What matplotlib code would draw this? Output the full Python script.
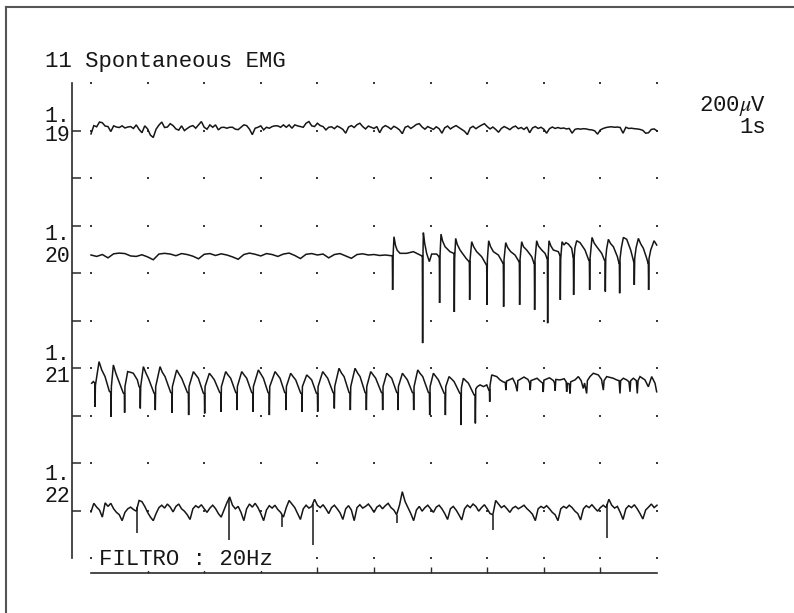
import numpy as np
import matplotlib
matplotlib.use("Agg")
import matplotlib.pyplot as plt
from matplotlib.lines import Line2D

plt.rcParams['font.family'] = ['Liberation Mono', 'DejaVu Sans Mono']
plt.rcParams['mathtext.fontset'] = 'stix'

# ---------------- data ----------------
title = "11 Spontaneous EMG"
channel_top = ["1.", "1.", "1.", "1."]
channel_bottom = ["19", "20", "21", "22"]
scale_amp = "200$\\mu$V"
scale_time = "1s"
filter_label = "FILTRO : 20Hz"

sweep_ms = 1000          # 10 divisions
div_ms = 100
div_uV = 200
grid_cols = list(range(0, 1001, 100))
grid_rows = list(range(0, 11))

# channel 1.19 : sampled every 5 ms, microvolts (positive = upward)
ch19_dt = 5
ch19_uV = [-25, 10, 5, 25, 22, 8, 6, -15, 9, 4,
           2, 9, 0, 4, 6, -2, 13, -6, -20, 9,
           -4, -30, -40, -5, 12, 25, 2, 4, 18, 10,
           -4, -9, 9, -11, -2, 6, 10, -1, 13, 27,
           3, -5, 13, 3, 13, -8, 2, 3, -1, 3,
           3, -5, -7, 3, 13, 10, -5, -28, -1, 3,
           9, -8, 3, -1, 6, 9, 9, 3, 13, 3,
           13, -1, 13, 9, 6, 3, 20, 27, 9, 6,
           20, 10, 6, -8, 3, 5, -3, 8, 2, -6,
           -22, 4, 10, 2, 14, 20, 6, -4, 8, 3,
           -2, 6, -20, 2, 10, 4, -5, 7, 1, -8,
           -24, 3, 8, -2, 6, 15, 18, 4, -5, 6,
           0, -6, 5, -3, -22, 1, 8, -4, 4, 10,
           2, -6, -14, -28, 0, 7, -3, 5, 12, 18,
           6, -4, 4, -6, -18, -2, 6, 0, -7, 3,
           8, -3, 2, -6, 4, -20, 0, 6, -2, 3,
           -5, -22, -3, 4, -2, 2, -2, 0, -4, -2,
           -22, -6, -3, -5, -3, -4, -7, -8, -12, -26,
           -8, -2, 2, 4, 5, 3, 4, 2, -22, 3,
           -2, -1, -3, -4, -6, -10, -22, -20, -6, -4,
           -12]

# channel 1.20 : quiet baseline (every 10 ms) then repetitive discharges
ch20_base_dt = 10
ch20_base_uV = [0, -6, 2, -12, 5, 8, 6, -4, -6, 1,
                -8, -20, 4, 7, 4, -3, 6, 2, -5, -16,
                3, 6, -2, 5, 0, -8, -18, 2, 8, 3,
                -4, 6, 2, -6, 4, 8, -2, -15, 3, 6,
                0, 4, -12, 2, 6, -4, -14, 2, 5, 0,
                2, -2, 0, -3]
ch20_events = [
    (532.4, -3), (532.9, -147), (533.6, -10), (535.3, 77), (538, 40), (541, 20), (546, 7),
    (557.7, 7), (569.5, 14), (575.4, 7), (581.3, 0), (584.8, -4),
    (585.4, -4), (585.9, -371), (586.4, -20), (587.2, 94), (589.5, 50), (593, 7),
    (597.8, -28), (601.9, 4), (610.7, 4), (614.8, -7),
    (615.4, -7), (615.9, -202), (616.5, -10), (618.4, 88), (621, 60), (625.5, 35),
    (634.3, 14), (640.7, 7),
    (641.4, 7), (641.9, -240), (642.5, -15), (644.3, 70), (647, 45), (652, 21),
    (662.6, -14), (668, -28),
    (668.5, -28), (669, -189), (669.7, -20), (672.6, 56), (676, 35), (681.4, 14),
    (690.2, -7), (698.6, -42),
    (699.1, -42), (699.6, -210), (700.3, -20), (702.6, 60), (706, 35), (710.9, 14),
    (719.7, 0), (728, -35),
    (728.5, -35), (729, -218), (729.7, -20), (732.7, 52), (736, 32), (741.5, 14),
    (749.1, 0), (756.2, -28),
    (756.8, -28), (757.3, -210), (758, -20), (760.9, 56), (764, 35), (769.8, 21),
    (778.6, -7), (782.7, -35),
    (783.3, -35), (783.8, -231), (784.5, -20), (787.4, 60), (790.5, 38), (796.3, 21),
    (802.2, 7), (805.7, -14),
    (806.3, -14), (806.8, -287), (807.4, -20), (809.2, 60), (812.5, 38), (816.9, 21),
    (825.7, 14), (828.1, 0),
    (828.7, 0), (829.2, -189), (829.9, -15), (832.2, 56), (835.7, 42), (839, 52),
    (843.4, 46), (849.3, 28), (851.6, -7),
    (852.2, -7), (852.7, -168), (853.5, -15), (855, 30), (858.1, 60), (864, 52),
    (872.8, 21), (879.3, -21),
    (880.5, -21), (881, -147), (881.7, -15), (885.2, 74), (889, 50), (893.5, 35),
    (902.3, 7), (907, -21),
    (908.2, -21), (908.7, -154), (909.4, -15), (911, 25), (914.1, 66), (918, 48),
    (922.9, 35), (930, -7), (932.9, -35),
    (933.5, -35), (934, -161), (934.7, -15), (937, 30), (940.6, 74), (946.5, 66),
    (953.5, 21), (958.8, -28),
    (959.4, -28), (959.9, -126), (960.6, -15), (963, 30), (967.1, 70), (971, 48),
    (975.9, 28), (981.8, -14), (984.2, -35),
    (984.7, -35), (985.2, -147), (985.9, -15), (988.9, 21), (994.8, 60), (999.5, 42),
]

# channel 1.21 : train of complex potentials, then irregular low activity
ch21_events = [
    (1.2, -1), (4.2, 6), (6.6, 0), (7.1, -100), (7.8, -10), (14.2, 90), (19, 55), (24.8, 27), (32.4, -35),
    (34.8, -40), (35.3, -142), (36, -15), (39.5, 76), (44, 40), (48.3, 13), (57.2, -43),
    (58.9, -45), (59.4, -125), (60, -15), (64.8, 48), (70, 45), (74.8, 41), (81.9, 13), (84.9, -15),
    (86.6, -20), (87.1, -107), (87.8, -15), (92.5, 69), (97, 42), (101.4, 20), (111.4, -43),
    (113.1, -45), (113.6, -114), (114.3, -15), (122, 69), (126, 45), (130.8, 27), (140.8, -40),
    (142.6, -42), (143.1, -125), (143.8, -15), (151.4, 55), (155.5, 38), (160.2, 20), (170.3, -40),
    (172, -42), (172.5, -135), (173.2, -15), (180.9, 48), (185, 35), (189.7, 20), (198.5, -43),
    (200.3, -45), (200.8, -128), (201.5, -15), (209.1, 41), (213.5, 28), (218, 13), (227.4, -40),
    (229.2, -42), (229.7, -121), (230.4, -15), (238, 48), (242, 34), (246.8, 20), (255.7, -40),
    (257.4, -42), (257.9, -114), (258.6, -15), (266.3, 48), (270.5, 34), (275.1, 20), (283.9, -40),
    (285.7, -42), (286.2, -121), (286.9, -15), (295.7, 55), (300, 38), (304.6, 20), (312.8, -40),
    (314.6, -42), (315.1, -135), (315.8, -15), (325.2, 48), (329.5, 34), (334, 20), (342.2, -40),
    (344, -42), (344.5, -114), (345.2, -15), (352.8, 41), (357, 27), (361.7, 13), (370.5, -43),
    (372.3, -45), (372.8, -121), (373.5, -15), (381.1, 34), (385.5, 24), (389.9, 13), (398.2, -43),
    (400, -45), (400.5, -121), (401.2, -15), (409.4, 48), (413.8, 34), (418.2, 20), (427.6, -40),
    (429.4, -42), (429.9, -107), (430.6, -15), (438.2, 62), (442.5, 42), (447.1, 27), (455.9, -40),
    (457.7, -42), (458.2, -114), (458.9, -15), (466.5, 62), (471, 42), (475.4, 27), (484.2, -40),
    (486, -42), (486.5, -114), (487.2, -15), (494.2, 48), (498.5, 34), (503, 20), (513.1, -40),
    (514.8, -42), (515.3, -114), (516, -15), (522.5, 41), (527, 30), (531.3, 20), (540.2, -40),
    (541.9, -42), (542.4, -114), (543.1, -15), (550.2, 41), (554.5, 27), (559, 13), (567.8, -40),
    (569.6, -42), (570.1, -114), (570.8, -15), (577.3, 55), (581.5, 40), (586.1, 27), (596.1, -40),
    (597.9, -42), (598.4, -135), (599.1, -15), (604.9, 41), (609.3, 27), (613.8, 13), (623.8, -43),
    (625.6, -45), (626.1, -135), (626.8, -15), (632.6, 27), (637, 17), (641.5, 6), (651.5, -43),
    (653.2, -45), (653.7, -177), (654.4, -20), (657.9, 20), (662, 10), (666.8, -1), (676.8, -50),
    (678.6, -50), (679.1, -170), (679.8, -25), (682.7, -15), (687.4, -8), (693.3, -15), (699.2, -8), (702.7, -29),
    (703.9, -29), (704.4, -79), (705, -10), (708, 34), (716.9, 27), (722.7, 13),
    (728, 5), (732, 2), (733, -30), (734.2, 8), (745, 20), (750, -5), (753, -35), (754.2, 10),
    (765, 25), (772, 15), (775, 0), (776, -30), (777.2, 10), (788, 20), (795, 5), (798, 0),
    (799, -38), (800.2, 12), (810, 22), (817, 10), (819, 0), (820, -32), (821.2, 15),
    (828.6, 13), (836, 18), (839.5, 5), (840.4, -37), (841.5, 0), (845, -5), (846.3, -44),
    (847.5, 5), (855.1, 13), (861, 27), (866, 10), (869.8, -23), (872, 0), (875.7, -44),
    (877, 10), (881.6, 27), (887.5, 41), (896.3, 34), (902, 15), (905.2, -30), (906.5, 10),
    (911.1, 27), (922.8, 20), (928.7, 13), (933, 10), (934.6, -44), (935.8, 10), (940.5, 20),
    (946.4, 13), (950.5, 5), (952.3, -37), (953.5, 10), (958.2, 20), (963.5, 10), (965.2, -44),
    (966.5, 10), (970, 27), (978.8, 13), (984.7, -16), (990.6, 27), (996.5, -1), (999.4, -37),
]

# channel 1.22 : sampled every 5 ms plus isolated sharp spikes
ch22_dt = 5
ch22_uV = [-8, 28, 12, 0, -30, 30, 15, 28, 5, -10,
           -20, -45, -10, 5, 12, 2, -5, 40, 35, 15,
           -10, -30, -45, -15, 10, 20, 8, 25, 12, -8,
           15, 25, 5, -5, -20, -40, 5, 18, 10, 22,
           5, -10, 8, 20, 6, -15, -30, 0, 30, 55,
           20, 5, 15, -10, -45, 5, 25, 12, 28, 10,
           -15, -45, 0, 18, 8, 20, 2, -10, -30, 10,
           40, 25, 10, -15, -40, 5, 20, 8, 15, 45,
           20, 10, 22, 5, -15, 10, 20, 5, -12, -40,
           5, 18, 0, -45, 10, 22, 8, 15, 25, 10,
           -10, 12, 20, 5, 18, 28, 10, 0, -20, 20,
           77, 35, 10, -15, -45, 0, 15, -5, 10, 20,
           5, -10, 12, 20, 5, -15, -40, 5, 15, 0,
           -20, -42, 5, 20, 10, 25, 15, -5, 10, 22,
           5, -15, -20, 40, 25, 10, 18, 5, -10, 8,
           15, 5, 12, 20, 6, -5, -18, -45, 5, 15,
           8, 18, 5, -10, -20, -45, 5, 15, 8, 20,
           10, -5, -15, -42, 5, 18, 10, 22, 8, -5,
           10, 20, 10, 45, 20, 8, 15, -10, -40, 5,
           18, 10, 22, 5, -15, -38, 0, 12, 25, 10,
           20]
ch22_spike_ms = [82, 244, 338, 392, 540, 710, 912]
ch22_spike_uV = [-98, -126, -70, -147, -56, -84, -119]

# ---------------- layout ----------------
W, H = 794, 613
fig = plt.figure(figsize=(W / 100, H / 100), dpi=100)
fig.patch.set_facecolor('white')


def fx(px):
    return px / W


def fy(py):
    return 1 - py / H


ax_l, ax_r, ax_t, ax_b = 72, 700, 60, 573
ax = fig.add_axes([fx(ax_l), fy(ax_b), fx(ax_r) - fx(ax_l), fy(ax_t) - fy(ax_b)])
x0_px, px_per_ms = 91, 0.566
y0_px, px_per_row = 83, 47.5
ax.set_xlim((ax_l - x0_px) / px_per_ms, (ax_r - x0_px) / px_per_ms)
ax.set_ylim((ax_b - y0_px) / px_per_row, (ax_t - y0_px) / px_per_row)
ax.set_facecolor('none')

ink = '#161616'
for s in ['top', 'right']:
    ax.spines[s].set_visible(False)
ax.spines['left'].set_bounds(grid_rows[0], grid_rows[-1])
ax.spines['bottom'].set_bounds(0, sweep_ms)
for s in ['left', 'bottom']:
    ax.spines[s].set_linewidth(1.2)
    ax.spines[s].set_color('#2a2a2a')
ax.set_yticks(grid_rows[1:-1])
ax.set_xticks(grid_cols[1:-1])
ax.tick_params(axis='y', direction='in', length=6.5, width=1.1, color='#2a2a2a',
               labelleft=False)
ax.tick_params(axis='x', direction='in', length=4, width=1.0, color='#2a2a2a',
               labelbottom=False)

# dot grid
gx, gy = np.meshgrid(grid_cols, grid_rows)
ax.scatter(gx.ravel(), gy.ravel(), s=2.6, marker='s', color='#3a3a3a', lw=0, zorder=1)

baseline_rows = [0.947, 3.621, 6.316, 8.989]
lw = 1.1


def draw(t, v, row):
    t = np.asarray(t, float)
    v = np.asarray(v, float)
    ax.plot(t, row - v / div_uV, color=ink, lw=lw, zorder=3, solid_joinstyle='miter')
    return t, v


# 1.19
t19 = np.arange(len(ch19_uV)) * ch19_dt
draw(t19, ch19_uV, baseline_rows[0])

# 1.20
t20b = np.arange(len(ch20_base_uV)) * ch20_base_dt
t20 = np.concatenate([t20b, [e[0] for e in ch20_events]])
v20 = np.concatenate([ch20_base_uV, [e[1] for e in ch20_events]])
draw(t20, v20, baseline_rows[1])

# 1.21
draw([e[0] for e in ch21_events], [e[1] for e in ch21_events], baseline_rows[2])

# 1.22
t22 = np.arange(len(ch22_uV)) * ch22_dt
draw(t22, ch22_uV, baseline_rows[3])
v_at = np.interp(ch22_spike_ms, t22, ch22_uV)
ax.vlines(ch22_spike_ms, baseline_rows[3] - v_at / div_uV,
          baseline_rows[3] - np.asarray(ch22_spike_uV) / div_uV,
          color=ink, lw=lw, zorder=3)

# ---------------- text ----------------
fs = 16
fig.text(fx(45), fy(67), title, fontsize=fs, color=ink, va='baseline', ha='left')

label_base = [(121.5, 141.5), (240, 261.5), (360, 381.5), (480, 501.5)]
for top, bot, (b1, b2) in zip(channel_top, channel_bottom, label_base):
    fig.text(fx(44), fy(b1), top, fontsize=15.5, color=ink, va='baseline', ha='left')
    fig.text(fx(44), fy(b2), bot, fontsize=15.5, color=ink, va='baseline', ha='left')

fig.text(fx(766), fy(111), scale_amp, fontsize=fs, color=ink, va='baseline', ha='right')
fig.text(fx(766), fy(133), scale_time, fontsize=fs, color=ink, va='baseline', ha='right')

fig.text(fx(99), fy(565), filter_label, fontsize=fs, color=ink, va='baseline', ha='left',
         zorder=5, bbox=dict(facecolor='white', edgecolor='none', pad=1.0))

# page frame (top and left edges)
fig.add_artist(Line2D([fx(6), fx(6)], [fy(7), 0], color='#555555', lw=1.5))
fig.add_artist(Line2D([fx(6), 1], [fy(7), fy(7)], color='#555555', lw=1.5))

fig.savefig("out.png", dpi=100, facecolor='white')
